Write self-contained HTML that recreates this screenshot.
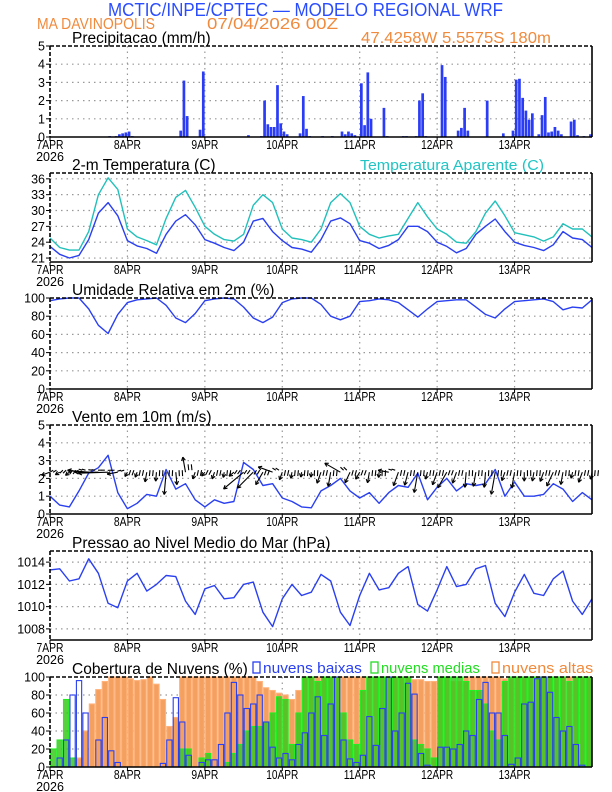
<!DOCTYPE html>
<html><head><meta charset="utf-8"><style>
html,body{margin:0;padding:0;background:#fff}
svg{display:block;font-family:"Liberation Sans",sans-serif}
</style></head><body>
<svg id="chart" width="612" height="792" viewBox="0 0 612 792" xmlns="http://www.w3.org/2000/svg">
<text x="108" y="16" font-size="18" fill="#2a4cff" textLength="395" lengthAdjust="spacingAndGlyphs">MCTIC/INPE/CPTEC — MODELO REGIONAL WRF</text>
<text x="37" y="29" font-size="16" fill="#f08a3c" textLength="118" lengthAdjust="spacingAndGlyphs">MA DAVINOPOLIS</text>
<text x="207" y="29" font-size="16" fill="#f08a3c" textLength="131" lengthAdjust="spacingAndGlyphs">07/04/2026 00Z</text>
<text x="361" y="43" font-size="16" fill="#f08a3c" textLength="190" lengthAdjust="spacingAndGlyphs">47.4258W 5.5575S 180m</text>
<g id="g"></g>
</svg>
<script>
const days = ["7APR","8APR","9APR","10APR","11APR","12APR","13APR"];
const precip = [
0,0,0,0,0,0,0,0,0,0,0,0,0,0,0,0,0,0,0.05,0,0.05,0.15,0.2,0.25,
0.3,0.05,0,0,0,0,0,0,0,0,0,0,0.02,0.02,0.02,0.02,0.35,3.1,1.15,0,0,0,0.4,3.6,
0,0,0,0,0,0,0,0,0,0.02,0.02,0.02,0.02,0.1,0.02,0.02,0.02,0.05,2.0,0.7,0.55,0.55,2.85,0.75,
0.3,0.15,0,0,0,0.2,2.25,0.45,0.05,0,0,0,0.05,0,0,0.05,0,0,0.3,0.15,0.3,0.2,0.1,0,
2.95,0.65,3.55,1.0,0,0,0,1.6,0.05,0,0,0,0,0.05,0.05,0,0,0.05,2.0,2.4,0.05,0,0,0,
0,3.95,3.3,0,0,0,0.35,0.5,1.6,0.35,0,0,0,0,0,2.0,0,0,0,0,0.2,0,0,0.35,
3.15,3.2,2.15,1.45,0.95,1.3,0,0.15,1.2,2.2,0.25,0.3,0.55,0.35,0.15,0,0,0.85,0.95,0.1,0,0.05,0,0.15];
const temp = [23.2,21.7,21.0,21.5,24.5,29.5,31.5,29,
24.3,23.3,22.8,21.9,25.5,28,29.2,27.3,
24.5,23.8,23,22.4,24,28,28.5,26,
24.3,23,22.7,22.1,24.5,28,28.6,27.5,
24.3,23.8,22.8,23.4,24.5,27,27,26,
24,23.2,22,22.8,25.5,27,28.4,26,
24,23.4,23,22.4,23.5,26,24.8,24.5,23];
const tempApp = [24.8,23,22.5,22.5,26,33,36.2,34,
26.5,25,24.3,23.5,28.5,32.5,33.8,30.6,
27,25.5,24.5,24.2,25.5,31,33,31.5,
26.5,24.8,24.5,24,26.5,31.5,33.2,31.5,
27,25.5,24.8,25.2,25.5,28.5,31.5,28.8,
26.5,25.5,24,23.8,26,29.5,31.8,29,
25.8,25.4,25,24.2,25,27.5,26.5,26.5,25];
const rh = [97,99,100,100,88,70,61,82,
95,98,99,100,92,78,73,83,
97,99,100,99,90,78,73,79,
95,99,100,100,93,80,76,80,
96,97,99,98,95,87,79,88,
96,97,98,98,90,82,78,88,
96,97,98,99,96,87,90,89,98];
const windSpeed = [1.0,0.5,0.4,1.3,2.3,2.6,3.3,1.2,
0.3,0.6,1.1,1.0,2.5,1.4,1.7,0.8,
0.4,0.8,0.6,0.7,2.9,2.5,1.6,1.7,
0.9,0.7,0.4,0.35,1.3,1.6,2.0,1.3,
0.9,1.2,0.6,1.2,1.6,1.5,2.3,0.8,
1.5,2.0,1.3,1.7,1.6,1.7,2.5,1.0,
1.8,1.0,1.0,1.1,1.7,1.4,0.7,1.2,0.8];
const windDir = [160,150,140,190,185,180,178,170,
120,110,100,95,95,85,-100,110,
130,110,100,140,140,135,120,200,
110,100,100,95,110,100,-150,115,
120,100,95,190,110,105,100,105,
110,120,110,95,100,95,100,110,
100,90,100,110,115,100,105,110,100];
const pres = [1013.3,1013.4,1012.3,1012.5,1014.3,1013,1010.3,1009.9,
1012.3,1013,1011.4,1012,1012.8,1012.7,1010.5,1009.3,
1011.6,1011.9,1010.7,1010.8,1012,1012.2,1009.5,1008.2,
1010.7,1012,1011,1011.3,1012.9,1012.3,1009.5,1008.3,
1011,1013,1011.5,1011.7,1013,1013.6,1010.2,1009.6,
1011.5,1013.6,1011.8,1012,1013.4,1013.7,1010.3,1009.1,
1011.3,1012.9,1011.2,1011,1012.5,1013.2,1010.5,1009.3,1010.7];
const cloudLow = [0,10,30,80,96,60,0,30,55,18,5,0,
0,0,0,0,0,4,30,77,50,13,0,5,
8,8,25,60,94,80,65,70,80,50,22,10,
15,8,25,38,60,78,35,70,100,30,9,5,
13,56,24,65,100,40,60,93,81,15,2,0,
22,22,20,25,40,35,75,94,60,60,35,3,
10,70,72,98,100,83,55,40,45,25,2,0];
const cloudMid = [20,30,75,10,0,0,0,0,0,0,0,0,
0,0,0,0,0,0,0,0,20,20,0,10,
15,0,0,5,15,25,40,45,45,50,60,78,
75,25,60,100,100,95,100,100,100,60,30,25,
85,100,100,100,100,100,100,100,30,25,20,10,
100,100,100,100,95,85,85,70,40,30,95,100,
100,100,100,100,100,100,100,100,95,100,100,100];
const cloudHigh = [0,0,0,0,10,40,70,86,95,100,100,100,
98,96,97,100,92,75,45,55,100,100,100,100,
100,100,100,100,100,100,100,100,95,88,85,82,
80,75,85,100,100,100,100,100,100,100,100,100,
100,100,100,100,100,100,100,100,97,97,95,95,
100,100,95,95,100,100,100,100,100,100,98,98,
100,100,100,100,100,100,100,100,100,100,100,100];
const precipTicks=[0,1,2,3,4,5], tempTicks=[21,24,27,30,33,36], rhTicks=[0,20,40,60,80,100], windTicks=[0,1,2,3,4,5], presTicks=[1008,1010,1012,1014], cloudTicks=[0,20,40,60,80,100];

const NS="http://www.w3.org/2000/svg";
const G=document.getElementById('g');
const X0=50,X1=592,HOURS=168;
function xs(h){return X0+h*(X1-X0)/HOURS;}
function mk(tag,attrs,parent){const e=document.createElementNS(NS,tag);for(const k in attrs)e.setAttribute(k,attrs[k]);(parent||G).appendChild(e);return e;}
function txt(s,attrs,parent){const e=mk('text',attrs,parent);e.textContent=s;return e;}

function panel(name,top,bot,ymin,ymax,ticks,title){
  const g=mk('g',{});
  
  
  const ys=v=>bot-(v-ymin)*(bot-top)/(ymax-ymin);
  for(let d=1;d<7;d++){const l=mk('line',{x1:xs(d*24),x2:xs(d*24),y1:top,y2:bot,stroke:'#999','stroke-dasharray':'1.5,4','stroke-width':1.2},g);
    }
  ticks.forEach(t=>{const y=ys(t);
    if(y>top+1&&y<bot-1){const l=mk('line',{x1:X0,x2:X1,y1:y,y2:y,stroke:'#999','stroke-dasharray':'1.5,4','stroke-width':1.2},g);
      }
    mk('line',{x1:X0-4,x2:X0,y1:y,y2:y,stroke:'#000','stroke-width':1},g);
    const tl=txt(String(t),{x:X0-5,y:y+4.5,'text-anchor':'end','font-size':12.5,fill:'#000'},g);
    
  });
  days.forEach((d,i)=>{const x=xs(i*24);
    mk('line',{x1:x,x2:x,y1:bot,y2:bot+4,stroke:'#000','stroke-width':1},g);
    const tl=txt(d,{x:x,y:bot+12,'text-anchor':'middle','font-size':12.5,fill:'#000',textLength:d.length>4?32:27,lengthAdjust:'spacingAndGlyphs'},g);
    });
  const yr=txt('2026',{x:X0,y:bot+24,'text-anchor':'middle','font-size':12.5,fill:'#000'},g);
  
  const tt=txt(title,{x:72,y:top-3,'font-size':15.5,fill:'#000'},g);
  
  const plot=mk('g',{},g);
  
  return {g,plot,ys,top,bot};
}
function frame(p){
  mk('line',{x1:X0,x2:X1,y1:p.top,y2:p.top,stroke:'#000','stroke-width':1.6,'stroke-dasharray':'4,2'},p.g);
  mk('line',{x1:X0,x2:X0,y1:p.top,y2:p.bot,stroke:'#000','stroke-width':1.6,'stroke-dasharray':'4,2'},p.g);
  mk('line',{x1:X1,x2:X1,y1:p.top,y2:p.bot,stroke:'#000','stroke-width':1.6},p.g);
  mk('line',{x1:X0,x2:X1,y1:p.bot,y2:p.bot,stroke:'#000','stroke-width':1.6},p.g);
}
function line(p,arr,color,name,step){
  const pts=arr.map((v,i)=>xs(i*step).toFixed(1)+','+p.ys(v).toFixed(1)).join(' ');
  const l=mk('polyline',{points:pts,fill:'none',stroke:color,'stroke-width':1.4,'stroke-linejoin':'round'},p.plot);
  
}

// Precip
const p1=panel('precipitation',46,137,0,5,precipTicks,'Precipitacao (mm/h)');
precip.forEach((v,i)=>{if(v<=0)return;const y=p1.ys(v);
  const b=mk('rect',{x:xs(i)+0.3,y:y,width:2.7,height:p1.bot-y,fill:'#2a3cf5'},p1.plot);
  });
frame(p1);

// Temperature
const p2=panel('temperature',173,262,20.25,37.1,tempTicks,'2-m Temperatura (C)');
const at=txt('Temperatura Aparente (C)',{x:360,y:170,'font-size':15,fill:'#20c4c4',textLength:184,lengthAdjust:'spacingAndGlyphs'},p2.g);

line(p2,tempApp,'#22c0bb','apparent-temperature-line',3);
line(p2,temp,'#2a40f0','temperature-line',3);
frame(p2);

// RH
const p3=panel('humidity',298,389,0,100,rhTicks,'Umidade Relativa em 2m (%)');
line(p3,rh,'#2a40f0','humidity-line',3);
frame(p3);

// Wind
const p4=panel('wind',425,514,0,5,windTicks,'Vento em 10m (m/s)');
line(p4,windSpeed,'#2a40f0','wind-speed-line',3);
const baseY=p4.ys(2.35);
windSpeed.forEach((s,i)=>{
  const a=windDir[i]*Math.PI/180, L=Math.max(5,s*9);
  const x0=xs(i*3),x1=x0+L*Math.cos(a),y1=baseY+L*Math.sin(a);
  const ag=mk('g',{stroke:'#000','stroke-width':1.1,fill:'none'},p4.plot);
  
  mk('line',{x1:x0,y1:baseY,x2:x1,y2:y1},ag);
  [0.5,-0.5].forEach(o=>{mk('line',{x1:x1,y1:y1,x2:x1-4*Math.cos(a+o),y2:y1-4*Math.sin(a+o)},ag);});
  for(let k=1;k<3;k++){const xa=xs(i*3+k),s2=6;
    mk('line',{x1:xa,y1:baseY-2,x2:xa+s2*Math.cos(a)*0.6,y2:baseY-2+s2*Math.sin(a)},ag);}
});
frame(p4);

// Pressure
const p5=panel('pressure',551,640,1007,1015,presTicks,'Pressao ao Nivel Medio do Mar (hPa)');
line(p5,pres,'#2a40f0','pressure-line',3);
frame(p5);

// Clouds
const p6=panel('clouds',677,767,0,100,cloudTicks,'Cobertura de Nuvens (%)');
const bw=xs(2)-xs(0);
function bars(arr,fill,stroke,name){
  arr.forEach((v,i)=>{if(v<=0)return;const y=p6.ys(v);
    const b=mk('rect',{x:xs(i*2)+0.6,y:y,width:bw-1.2,height:p6.bot-y,fill:fill,stroke:stroke,'stroke-width':1.1},p6.plot);
    });
}
bars(cloudHigh,'#f4a060','#ffb27a','cloud-high-bar');
bars(cloudMid,'rgba(60,200,30,0.85)','#22ee22','cloud-mid-bar');
bars(cloudLow,'none','#2a40f0','cloud-low-bar');
frame(p6);
const lg=mk('g',{'font-size':15},p6.g);

[['nuvens baixas','#2a40f0',253],['nuvens medias','#22dd22',371],['nuvens altas','#f08a3c',492]].forEach(([t,c,x])=>{
  const e=mk('g',{},lg);
  
  mk('rect',{x:x,y:662,width:7,height:11,fill:'none',stroke:c,'stroke-width':1.3},e);
  txt(t,{x:x+10,y:673,fill:c,textLength:t.length*7.6,lengthAdjust:'spacingAndGlyphs'},e);
});
</script>
</body></html>
